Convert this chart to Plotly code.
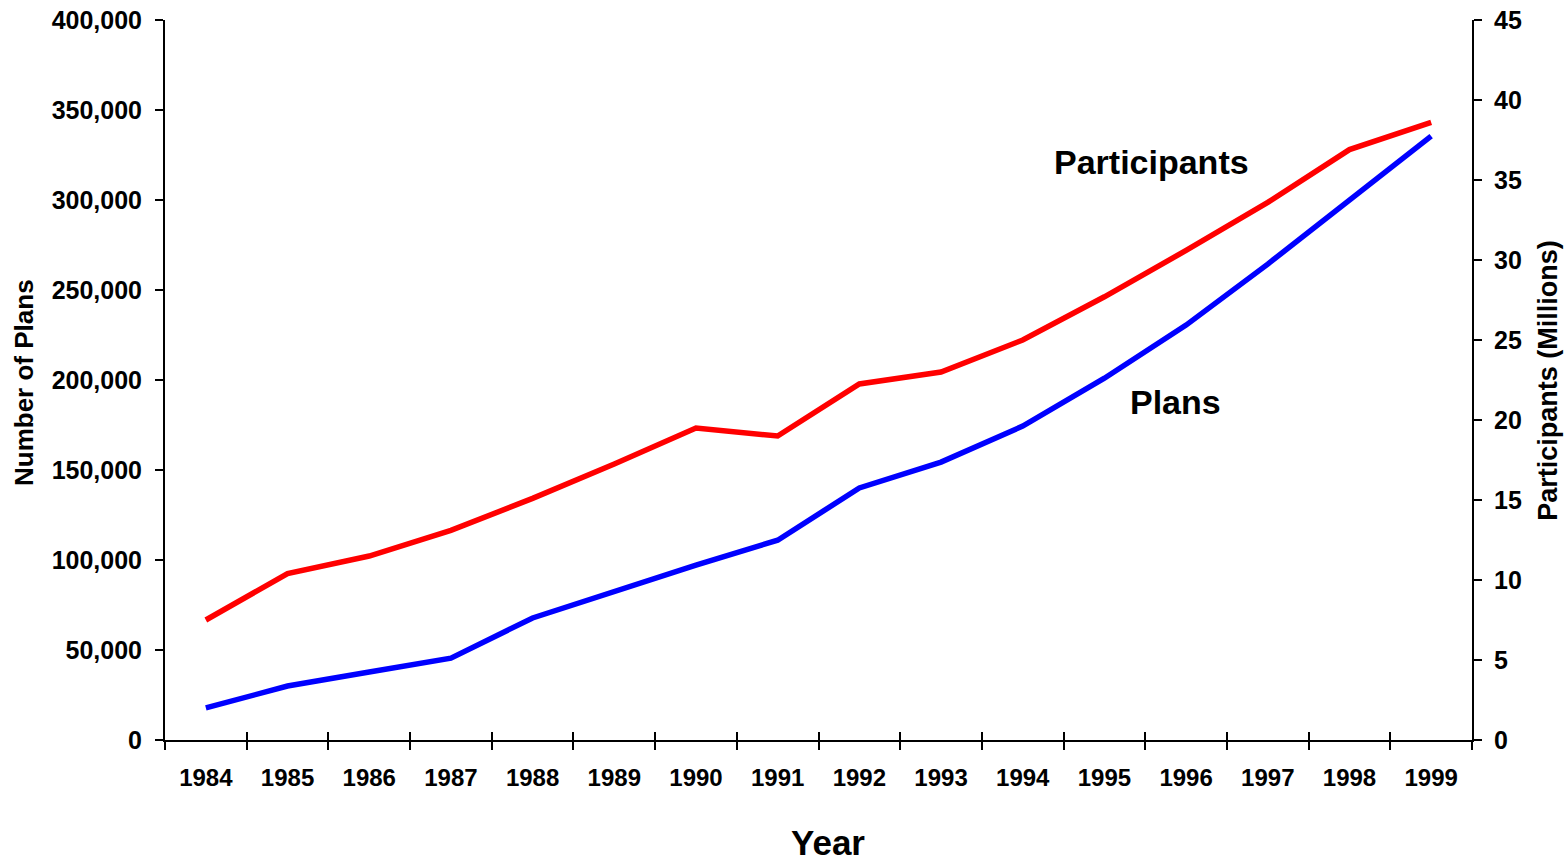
import plotly.graph_objects as go

years = ["1984", "1985", "1986", "1987", "1988", "1989", "1990", "1991",
         "1992", "1993", "1994", "1995", "1996", "1997", "1998", "1999"]
plans = [17800, 30000, 37800, 45500, 67800, 82800, 97200, 111000,
         140000, 154400, 174400, 201000, 230500, 264400, 300000, 335500]
participants_m = [7.5, 10.4, 11.5, 13.1, 15.1, 17.25, 19.5, 19.0,
                  22.25, 23.0, 25.0, 27.7, 30.6, 33.6, 36.9, 38.6]

FONT = "Liberation Sans, Arial, sans-serif"
ytickfont = dict(family=FONT, size=25, color="black", weight="bold")
xtickfont = dict(family=FONT, size=24, color="black", weight="bold")

fig = go.Figure()
fig.add_trace(go.Scatter(x=years, y=participants_m, mode="lines",
                         line=dict(color="#FF0000", width=5.5),
                         xaxis="x2", yaxis="y2", showlegend=False, name="Participants"))
fig.add_trace(go.Scatter(x=years, y=plans, mode="lines",
                         line=dict(color="#0000FF", width=5.5),
                         xaxis="x", yaxis="y", showlegend=False, name="Plans"))

common_x = dict(type="category", categoryorder="array", categoryarray=years,
                range=[-0.5, 15.5], tickson="boundaries", showgrid=False,
                showline=True, linecolor="black", linewidth=2, automargin=False,
                tickcolor="black", tickwidth=2, ticklen=8, zeroline=False)
common_y = dict(showgrid=False, zeroline=False, showline=True, linecolor="black",
                linewidth=2, tickcolor="black", tickwidth=2, ticklen=8, automargin=False)

fig.update_layout(
    width=1564, height=864,
    margin=dict(l=165, r=92, t=20, b=124, autoexpand=False),
    paper_bgcolor="white", plot_bgcolor="white",
    font=dict(family=FONT, color="black"),
    xaxis=dict(**common_x, ticks="outside", tickfont=xtickfont, ticklabelstandoff=15),
    xaxis2=dict(**common_x, ticks="inside", overlaying="x", side="bottom",
                anchor="y", showticklabels=False),
    yaxis=dict(**common_y, range=[0, 400000], tickmode="linear", tick0=0, dtick=50000,
               tickformat=",d", ticks="outside", tickfont=ytickfont, ticklabelstandoff=8),
    yaxis2=dict(**common_y, range=[0, 45], tickmode="linear", tick0=0, dtick=5,
                ticks="outside", side="right", overlaying="y", anchor="x",
                tickfont=ytickfont, ticklabelstandoff=7),
    yaxis3=dict(**common_y, range=[0, 400000], tickmode="linear", tick0=0, dtick=50000,
                ticks="inside", overlaying="y", side="left", anchor="x",
                showticklabels=False),
    yaxis4=dict(**common_y, range=[0, 45], tickmode="linear", tick0=0, dtick=5,
                ticks="inside", overlaying="y", side="right", anchor="x",
                showticklabels=False),
)

ann_font = dict(family=FONT, color="black", weight="bold")
fig.add_annotation(text="Participants", xref="paper", yref="paper", x=0.755, y=0.803,
                   xanchor="center", yanchor="middle",
                   showarrow=False, font=dict(**ann_font, size=34))
fig.add_annotation(text="Plans", xref="paper", yref="paper", x=0.773, y=0.469,
                   xanchor="center", yanchor="middle",
                   showarrow=False, font=dict(**ann_font, size=34))
fig.add_annotation(text="Number of Plans", xref="paper", yref="paper", x=-0.108, y=0.497,
                   xanchor="center", yanchor="middle",
                   textangle=-90, showarrow=False, font=dict(**ann_font, size=26))
fig.add_annotation(text="Participants (Millions)", xref="paper", yref="paper", x=1.058, y=0.5,
                   xanchor="center", yanchor="middle",
                   textangle=-90, showarrow=False, font=dict(**ann_font, size=27))
fig.add_annotation(text="Year", xref="paper", yref="paper", x=0.507, y=-0.143,
                   xanchor="center", yanchor="middle", showarrow=False,
                   font=dict(**ann_font, size=35))

fig.write_html("out.html", config={"displayModeBar": False},
               post_script="document.body.style.margin='0';document.body.style.overflow='hidden';")
